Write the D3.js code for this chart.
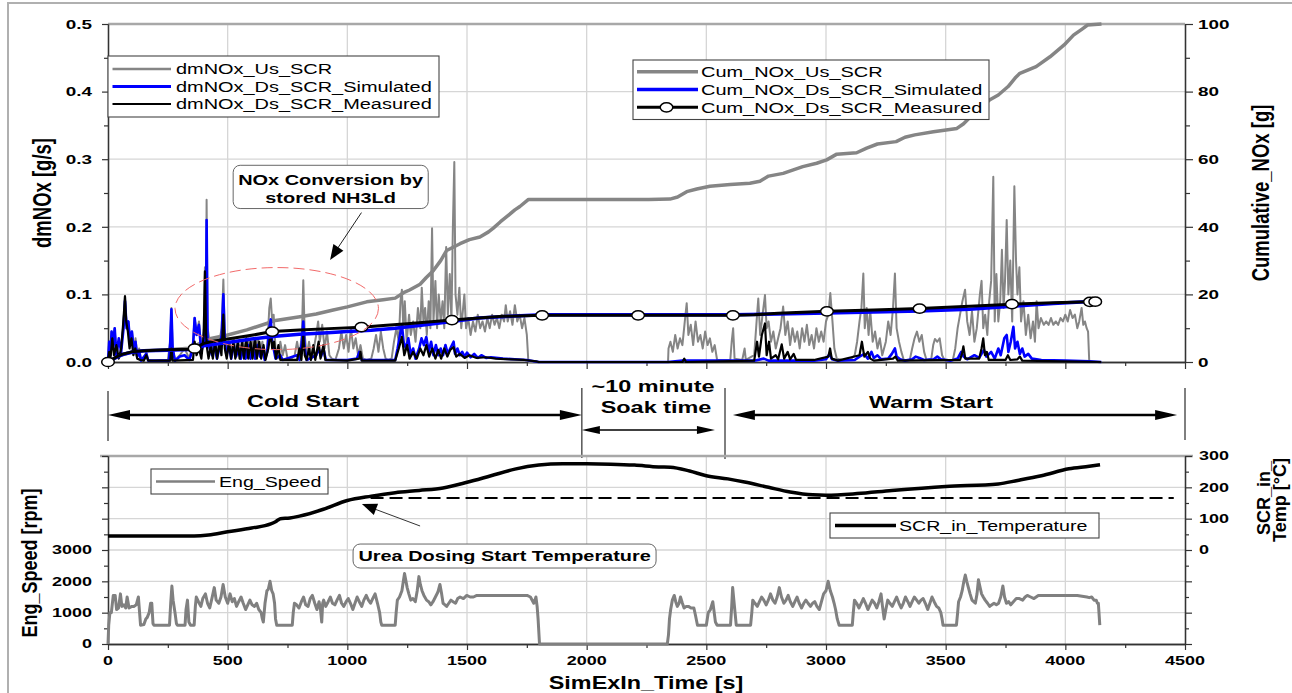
<!DOCTYPE html>
<html><head><meta charset="utf-8">
<script src="https://cdn.jsdelivr.net/npm/d3@7"></script>
<style>
body{margin:0;background:#fff}
svg{display:block}
text{font-family:"Liberation Sans",Arial,sans-serif}
</style>
</head><body>
<svg id="c" width="1292" height="693"></svg>
<script>
// ---------------- DATA (time [s], value) flat pairs ----------------
const xTicks = [0,500,1000,1500,2000,2500,3000,3500,4000,4500];
const nOxTicks = [0,0.1,0.2,0.3,0.4,0.5];
const cumTicks = [0,20,40,60,80,100];
const engTicks = [0,1000,2000,3000];
const tempTicks = [0,100,200,300];

const dmNOxUs = [0,0,5,0.03,10,0.01,15,0.045,20,0.02,28,0.05,35,0.01,45,0.03,55,0.02,65,0.06,71,0.098,78,0.05,85,0.06,92,0.035,100,0.045,108,0.02,115,0.035,122,0.01,130,0.02,138,0.005,150,0.002,160,0.015,168,0.003,180,0.002,200,0.002,220,0.003,250,0.003,260,0.03,265,0.08,270,0.02,280,0.003,300,0.01,320,0.02,340,0.005,355,0.03,362,0.065,370,0.04,380,0.06,390,0.02,400,0.05,405,0.14,409,0.05,412,0.24,416,0.05,425,0.03,435,0.02,445,0.035,455,0.01,465,0.03,475,0.05,482,0.122,488,0.04,495,0.015,505,0.03,515,0.01,525,0.035,535,0.015,545,0.03,555,0.01,565,0.03,575,0.01,585,0.035,595,0.012,605,0.03,615,0.01,625,0.035,635,0.015,645,0.03,655,0.005,665,0.02,674,0.08,680,0.094,686,0.06,692,0.07,700,0.02,710,0.005,720,0.03,730,0.01,740,0.025,750,0.005,760,0.003,780,0.01,790,0.03,800,0.01,810,0.04,816,0.121,822,0.04,830,0.01,840,0.03,850,0.005,860,0.02,870,0.04,878,0.06,885,0.03,895,0.055,905,0.02,915,0.045,925,0.01,935,0.005,950,0.003,965,0.02,975,0.045,985,0.02,995,0.04,1005,0.015,1015,0.05,1025,0.02,1035,0.035,1045,0.01,1055,0.025,1065,0.005,1080,0.003,1100,0.005,1110,0.02,1120,0.04,1130,0.015,1140,0.045,1150,0.02,1160,0.005,1170,0.003,1185,0.005,1195,0.03,1205,0.05,1215,0.03,1222,0.09,1228,0.107,1234,0.05,1240,0.09,1248,0.03,1258,0.07,1265,0.04,1275,0.06,1285,0.03,1295,0.08,1305,0.05,1311,0.11,1318,0.06,1325,0.08,1332,0.04,1340,0.09,1347,0.05,1354,0.198,1360,0.06,1368,0.12,1375,0.05,1382,0.1,1390,0.06,1398,0.09,1405,0.05,1413,0.17,1420,0.07,1428,0.13,1435,0.06,1441,0.2,1447,0.296,1452,0.1,1460,0.07,1468,0.11,1476,0.05,1489,0.1,1496,0.05,1505,0.065,1515,0.04,1525,0.06,1535,0.045,1545,0.07,1555,0.05,1565,0.06,1575,0.045,1585,0.065,1595,0.05,1605,0.07,1615,0.055,1625,0.065,1635,0.05,1645,0.07,1655,0.06,1662,0.084,1670,0.06,1680,0.075,1690,0.055,1700,0.084,1710,0.06,1720,0.07,1730,0.05,1740,0.065,1750,0.04,1756,0.003,1760,0,2340,0,2342,0.02,2350,0.03,2360,0.015,2370,0.04,2380,0.02,2390,0.035,2400,0.025,2410,0.06,2418,0.087,2425,0.04,2435,0.055,2445,0.025,2455,0.06,2465,0.03,2475,0.04,2485,0.02,2495,0.045,2505,0.025,2515,0.035,2525,0.015,2535,0.025,2545,0.003,2600,0.003,2606,0.03,2612,0.05,2618,0.005,2650,0.003,2660,0.02,2665,0.003,2700,0.01,2710,0.06,2717,0.094,2725,0.04,2735,0.07,2745,0.099,2752,0.05,2760,0.06,2770,0.03,2780,0.045,2790,0.02,2800,0.035,2810,0.05,2821,0.082,2830,0.04,2840,0.06,2850,0.025,2860,0.05,2870,0.03,2880,0.045,2890,0.02,2900,0.05,2910,0.03,2920,0.055,2930,0.025,2940,0.04,2950,0.02,2960,0.05,2970,0.03,2980,0.045,2990,0.03,3000,0.06,3010,0.07,3018,0.102,3027,0.06,3035,0.02,3045,0.005,3070,0.003,3100,0.003,3120,0.01,3130,0.03,3140,0.06,3148,0.08,3156,0.131,3162,0.05,3170,0.08,3178,0.04,3185,0.075,3195,0.03,3205,0.045,3215,0.02,3225,0.035,3235,0.01,3250,0.03,3260,0.06,3270,0.04,3280,0.08,3288,0.131,3295,0.05,3305,0.03,3315,0.015,3325,0.003,3350,0.003,3360,0.02,3370,0.035,3380,0.045,3390,0.03,3400,0.04,3410,0.015,3420,0.003,3440,0.005,3448,0.025,3455,0.034,3465,0.03,3475,0.035,3485,0.01,3495,0.003,3530,0.003,3540,0.02,3550,0.05,3560,0.07,3570,0.09,3581,0.107,3590,0.06,3600,0.04,3610,0.075,3620,0.03,3630,0.05,3643,0.1,3650,0.12,3657,0.05,3665,0.07,3674,0.04,3682,0.09,3690,0.12,3699,0.274,3705,0.06,3712,0.13,3720,0.06,3728,0.09,3735,0.166,3742,0.08,3748,0.12,3755,0.21,3762,0.1,3770,0.15,3778,0.06,3787,0.26,3794,0.15,3800,0.1,3808,0.14,3815,0.06,3825,0.09,3835,0.04,3845,0.07,3855,0.035,3865,0.06,3873,0.03,3880,0.09,3888,0.05,3898,0.065,3910,0.055,3920,0.06,3930,0.055,3940,0.065,3950,0.055,3960,0.06,3970,0.055,3980,0.065,3990,0.06,4000,0.07,4010,0.06,4020,0.077,4030,0.065,4040,0.07,4050,0.05,4058,0.06,4068,0.08,4075,0.055,4082,0.06,4089,0.05,4095,0.045,4100,0];

const dmNOxDsSim = [0,0,5,0.03,10,0.01,15,0.045,20,0.02,28,0.05,35,0.01,45,0.035,55,0.015,65,0.05,71,0.09,78,0.05,85,0.06,92,0.03,100,0.045,108,0.015,115,0.03,122,0.008,130,0.015,138,0.002,160,0.012,168,0.002,255,0.002,260,0.03,265,0.078,270,0.02,280,0.002,300,0.008,320,0.01,340,0.003,355,0.02,362,0.065,370,0.04,380,0.055,390,0.015,400,0.03,405,0.06,409,0.03,412,0.21,416,0.03,425,0.02,435,0.01,445,0.025,455,0.005,465,0.02,475,0.04,482,0.1,488,0.03,495,0.01,505,0.025,515,0.005,525,0.025,535,0.008,545,0.02,555,0.005,565,0.02,575,0.005,585,0.025,595,0.005,605,0.02,615,0.005,625,0.025,635,0.008,645,0.02,655,0.003,665,0.015,674,0.05,680,0.063,686,0.03,692,0.02,700,0.005,720,0.01,730,0.003,790,0.01,800,0.003,810,0.03,816,0.06,822,0.02,830,0.003,870,0.01,880,0.02,890,0.008,900,0.02,910,0.003,1000,0.003,1040,0.005,1050,0.015,1060,0.003,1200,0.003,1210,0.02,1220,0.04,1228,0.055,1235,0.03,1245,0.02,1255,0.035,1265,0.01,1275,0.02,1285,0.005,1300,0.02,1310,0.035,1320,0.025,1330,0.037,1340,0.015,1350,0.03,1360,0.01,1370,0.025,1380,0.01,1390,0.02,1400,0.01,1410,0.025,1420,0.012,1430,0.02,1444,0.03,1450,0.012,1460,0.02,1470,0.01,1480,0.015,1490,0.008,1500,0.014,1515,0.007,1530,0.012,1545,0.006,1560,0.01,1580,0.006,1600,0.007,1650,0.005,1700,0.004,1750,0.003,1780,0.001,1800,0,2340,0,2400,0.002,2700,0.002,2740,0.005,2760,0.002,2950,0.002,3000,0.004,3015,0.012,3025,0.004,3050,0.002,3120,0.003,3140,0.008,3160,0.012,3175,0.005,3190,0.015,3200,0.006,3215,0.01,3230,0.004,3260,0.005,3275,0.012,3288,0.02,3295,0.008,3310,0.004,3330,0.002,3360,0.004,3375,0.008,3390,0.006,3410,0.003,3450,0.004,3465,0.008,3480,0.004,3520,0.002,3550,0.005,3565,0.015,3575,0.008,3590,0.004,3620,0.01,3640,0.006,3660,0.018,3670,0.008,3690,0.015,3705,0.005,3720,0.02,3730,0.01,3745,0.035,3755,0.04,3762,0.015,3772,0.03,3783,0.052,3790,0.02,3800,0.03,3810,0.012,3820,0.02,3830,0.008,3845,0.012,3860,0.005,3900,0.003,4000,0.002,4100,0.001,4150,0];

const dmNOxDsMeas = [0,0,5,0.015,10,0.005,18,0.035,25,0.01,35,0.025,45,0.005,55,0.02,62,0.05,68,0.08,71,0.097,76,0.06,83,0.045,90,0.02,98,0.035,106,0.01,114,0.02,122,0.005,135,0.003,150,0.002,160,0.01,168,0.002,260,0.002,265,0.02,270,0.002,355,0.003,362,0.03,370,0.01,380,0.02,390,0.005,400,0.04,405,0.134,410,0.04,414,0.02,420,0.005,430,0.025,438,0.005,448,0.03,456,0.005,466,0.03,474,0.01,482,0.07,488,0.02,496,0.005,506,0.03,514,0.005,524,0.03,532,0.005,542,0.03,550,0.005,560,0.03,568,0.005,578,0.035,586,0.005,596,0.03,604,0.005,614,0.035,622,0.005,632,0.03,640,0.005,650,0.025,658,0.003,670,0.02,680,0.045,686,0.02,694,0.03,702,0.005,712,0.025,720,0.003,790,0.003,800,0.02,808,0.003,816,0.04,822,0.01,830,0.003,840,0.02,848,0.003,858,0.025,866,0.003,880,0.03,888,0.005,900,0.025,908,0.003,1000,0.002,1050,0.005,1055,0.015,1060,0.002,1200,0.002,1215,0.02,1228,0.037,1238,0.01,1250,0.025,1260,0.005,1275,0.015,1290,0.005,1305,0.02,1318,0.01,1330,0.025,1342,0.008,1355,0.02,1368,0.005,1380,0.018,1392,0.005,1405,0.02,1418,0.008,1430,0.018,1444,0.022,1455,0.008,1470,0.012,1490,0.006,1510,0.01,1540,0.006,1580,0.007,1620,0.005,1680,0.004,1740,0.003,1790,0.001,1800,0,2400,0,2408,0.005,2415,0,2700,0.002,2712,0.03,2720,0.008,2732,0.04,2745,0.057,2752,0.01,2762,0.03,2770,0.005,2790,0.01,2800,0.004,2815,0.026,2825,0.005,2840,0.015,2850,0.004,2865,0.012,2875,0.003,2950,0.003,3010,0.008,3017,0.02,3024,0.005,3050,0.002,3140,0.01,3150,0.03,3160,0.008,3175,0.015,3185,0.005,3200,0.002,3280,0.005,3290,0.008,3300,0.002,3560,0.003,3568,0.012,3574,0.023,3582,0.005,3640,0.005,3650,0.02,3657,0.035,3664,0.01,3672,0.015,3680,0.003,3750,0.003,3760,0.01,3770,0.003,3800,0.004,3810,0.008,3820,0.002,4150,0];

const cumNOxUs = [0,0,50,1.9,100,3.0,150,3.3,250,3.6,340,4.1,380,5.4,420,6.8,500,8.0,580,9.5,663,11.4,700,12.3,802,13.4,870,14.2,941,15.4,1000,16.3,1081,17.8,1150,18.4,1200,18.9,1235,20.5,1260,21.3,1304,23.0,1330,25.0,1359,27.0,1390,30.0,1415,33.0,1471,35.0,1510,36.2,1554,37.0,1590,38.5,1610,39.6,1640,41.5,1666,43.0,1700,45.0,1721,46.0,1757,48.1,2260,48.1,2348,48.2,2380,48.8,2418,50.4,2460,51.2,2515,52.0,2600,52.5,2682,52.9,2724,53.5,2760,55.0,2821,55.8,2903,57.8,2961,58.8,3003,59.8,3045,61.5,3128,61.9,3170,63.3,3215,64.5,3293,65.2,3330,66.5,3371,67.2,3449,68.1,3547,69.1,3575,70.5,3605,72.6,3640,75.0,3683,77.5,3720,79.0,3761,81.5,3790,84.0,3810,85.4,3878,87.4,3936,90.3,3995,93.8,4034,96.7,4070,98.5,4093,99.7,4151,100];

const cumNOxDsSim = [0,0,30,1.2,60,2.2,100,2.9,150,3.3,250,3.5,340,3.7,400,4.8,500,5.8,600,6.8,700,7.6,800,8.2,900,8.6,1000,9.0,1100,9.4,1200,10.0,1300,10.8,1437,12.0,1550,13.0,1700,13.6,1814,14.0,2215,14.0,2611,14.0,2800,14.2,3004,14.5,3200,14.8,3391,15.1,3600,15.6,3777,16.5,3950,17.3,4103,17.9,4150,18.0];

const cumNOxDsMeas = [0,0,30,1.3,60,2.3,100,3.0,150,3.3,250,3.6,340,3.8,362,4.0,400,5.5,450,6.3,520,7.0,600,7.9,686,9.0,800,9.5,900,9.8,1059,10.3,1150,10.8,1250,11.3,1350,11.9,1437,12.4,1550,13.0,1650,13.5,1814,13.8,2215,13.8,2611,13.8,2700,14.0,2800,14.4,3004,15.0,3200,15.4,3391,15.8,3600,16.5,3777,17.1,3950,17.5,4103,17.8,4125,17.85,4150,17.9];
const cumMeasMarkers = [0,362,686,1059,1437,1814,2215,2611,3004,3391,3777,4103,4125];

const engSpeed = [0,0,3,600,8,1000,14,1000,22,1550,30,1550,36,1100,44,1150,52,1600,58,1200,66,1250,74,1150,80,1500,88,1150,100,1200,108,1200,118,1250,127,1500,132,1000,136,600,150,620,158,800,164,850,172,1000,178,1300,183,1300,188,650,192,600,257,600,262,1300,267,1850,272,1400,280,1000,286,650,290,600,322,600,326,1100,332,1400,338,700,345,600,360,600,365,1200,369,1500,378,1350,388,1200,396,1450,407,1600,416,1300,425,1150,434,1450,444,1800,452,1400,463,1300,472,1500,481,1900,490,1500,500,1300,510,1600,519,1350,528,1450,537,1200,546,1350,556,1500,565,1300,575,1100,584,1250,593,1400,602,1250,612,1200,621,1300,630,1100,640,1000,645,800,649,700,656,1300,664,1700,670,1750,677,2000,684,1700,690,1600,696,1300,700,800,705,600,770,600,774,1000,779,1300,788,1250,798,1150,808,1350,817,1500,826,1250,836,1200,845,1450,854,1550,864,1300,873,1100,882,1350,888,1100,893,700,897,1300,901,1400,910,1200,920,1350,929,1500,938,1300,948,1250,957,1400,967,1550,976,1300,985,1200,995,1350,1004,1450,1013,1300,1023,1100,1032,1300,1041,1500,1050,1350,1060,1200,1069,1400,1079,1550,1088,1400,1097,1300,1106,1450,1116,1600,1126,1300,1135,1000,1140,700,1144,600,1200,600,1204,1000,1209,1400,1218,1500,1228,1700,1234,2000,1239,2250,1245,2000,1250,1800,1257,1600,1265,1400,1274,1450,1284,1350,1292,1700,1299,2150,1305,1900,1312,1700,1320,1550,1331,1400,1340,1350,1349,1250,1358,1350,1368,1500,1378,1650,1387,1900,1394,1600,1400,1300,1408,1250,1415,1200,1424,1300,1433,1400,1442,1350,1452,1300,1461,1450,1471,1500,1485,1450,1499,1550,1513,1500,1527,1500,1541,1550,1555,1550,1600,1550,1650,1550,1700,1550,1751,1550,1765,1500,1779,1300,1784,1400,1788,1500,1793,1200,1797,800,1803,0,2337,0,2342,300,2346,800,2351,1100,2358,1400,2366,1550,2372,1350,2379,1200,2386,1300,2392,1500,2400,1300,2407,1150,2416,1200,2425,1200,2436,1150,2448,1150,2455,900,2463,600,2500,600,2504,800,2508,1000,2517,1100,2527,1350,2533,1000,2538,700,2545,600,2601,600,2606,1200,2610,1800,2615,1400,2620,1000,2625,600,2685,600,2690,1000,2694,1400,2703,1300,2713,1200,2722,1350,2731,1500,2740,1400,2750,1250,2759,1400,2768,1600,2778,1400,2787,1300,2796,1500,2805,1800,2814,1500,2824,1300,2833,1400,2842,1550,2851,1350,2861,1200,2870,1350,2879,1500,2888,1300,2898,1150,2907,1300,2916,1400,2925,1300,2935,1200,2944,1300,2953,1350,2962,1200,2972,1100,2981,1350,2990,1600,3000,1700,3009,2000,3018,1700,3027,1500,3034,1300,3040,1100,3047,800,3055,600,3110,600,3114,1000,3119,1400,3128,1300,3138,1150,3147,1300,3156,1450,3165,1300,3175,1100,3184,1250,3193,1400,3203,1300,3212,1150,3221,1350,3230,1600,3236,1200,3243,800,3250,1100,3258,1400,3267,1300,3277,1200,3286,1350,3295,1500,3305,1300,3314,1150,3323,1300,3332,1500,3342,1350,3351,1200,3360,1350,3369,1500,3379,1400,3388,1300,3397,1400,3406,1450,3415,1300,3425,1100,3434,1300,3443,1500,3452,1350,3462,1200,3471,1150,3480,1000,3485,800,3489,600,3545,600,3550,1000,3554,1350,3562,1500,3569,1700,3576,2000,3582,2200,3588,2000,3595,1800,3602,1600,3610,1400,3617,1350,3624,1300,3631,1600,3637,2050,3644,1800,3650,1600,3657,1500,3665,1400,3675,1300,3684,1200,3693,1250,3702,1300,3712,1250,3721,1300,3730,1500,3739,1850,3746,1500,3754,1300,3763,1350,3772,1250,3783,1350,3795,1450,3808,1450,3822,1400,3832,1500,3841,1550,3855,1500,3869,1450,3878,1500,3887,1550,3950,1550,4000,1550,4050,1550,4090,1500,4100,1480,4110,1500,4120,1400,4129,1400,4134,1300,4138,1300,4144,600];

const scrInTemp = [0,45,360,45,420,48,500,58,600,70,680,83,700,90,720,100,760,102,800,108,900,130,1000,158,1100,172,1200,183,1300,190,1400,198,1500,216,1600,237,1700,258,1800,271,1900,275,2000,275,2100,274,2200,271,2300,265,2350,264,2430,252,2500,237,2590,227,2660,217,2760,200,2850,185,2945,176,3000,175,3130,180,3275,190,3500,203,3720,211,3800,222,3900,237,4015,259,4100,267,4145,272];
const ureaDosingTemp = 166;

// ---------------- SETUP ----------------
const pairs = a => d3.range(0, a.length, 2).map(i => [a[i], a[i + 1]]);
const svg = d3.select("#c");
const FONT_STRETCH = 1.4;

const x = d3.scaleLinear().domain([0, 4500]).range([108, 1185]);
const yN = d3.scaleLinear().domain([0, 0.5]).range([362, 24]);
const yC = d3.scaleLinear().domain([0, 100]).range([362, 24]);
const yE = d3.scaleLinear().domain([0, 6000]).range([644, 456]);
const yT = d3.scaleLinear().domain([-300, 300]).range([644, 456]);

function T(g, px, py, s, o) {
  o = o || {};
  let tr = `translate(${px},${py})`;
  if (o.rot) tr += ` rotate(${o.rot})`;
  tr += ` scale(${o.sx || 1},${o.sy || 1})`;
  const t = g.append("text").attr("transform", tr)
    .attr("font-size", o.size || 14)
    .attr("font-weight", o.bold ? "bold" : "normal")
    .attr("text-anchor", o.anchor || "start")
    .attr("fill", o.fill || "#000")
    .text(s);
  if (o.dy) t.attr("dy", o.dy);
  return t;
}
function head(g, tx, ty, fx, fy, len, hw, col) {
  const dx = tx - fx, dy = ty - fy, L = Math.hypot(dx, dy);
  const ux = dx / L, uy = dy / L;
  const bx = tx - ux * len, by = ty - uy * len;
  g.append("polygon").attr("points",
    `${tx},${ty} ${bx - uy * hw},${by + ux * hw} ${bx + uy * hw},${by - ux * hw}`)
    .attr("fill", col || "#000");
}
function styleAxis(g) {
  g.select(".domain").attr("stroke", "#333").attr("stroke-width", 1.3);
  g.selectAll(".tick line").attr("stroke", "#333").attr("stroke-width", 1.2);
}

// outer frame
svg.append("line").attr("x1", 8).attr("y1", 3).attr("x2", 8).attr("y2", 693).attr("stroke", "#b0b0b0").attr("stroke-width", 2);
svg.append("line").attr("x1", 7).attr("y1", 3).attr("x2", 1292).attr("y2", 3).attr("stroke", "#b0b0b0").attr("stroke-width", 2);

// ================= TOP PANEL =================
const topG = svg.append("g");
const grid = topG.append("g").attr("stroke", "#d6d6d6").attr("stroke-width", 1.3);
nOxTicks.slice(1, -1).forEach(v => grid.append("line").attr("x1", x(0)).attr("x2", x(4500)).attr("y1", yN(v)).attr("y2", yN(v)));
xTicks.slice(1, -1).forEach(t => grid.append("line").attr("x1", x(t)).attr("x2", x(t)).attr("y1", yN(0)).attr("y2", yN(0.5)));
topG.append("line").attr("x1", x(0)).attr("x2", x(4500)).attr("y1", yN(0.5)).attr("y2", yN(0.5)).attr("stroke", "#a8a8a8").attr("stroke-width", 2.5);

let g;
g = topG.append("g").attr("transform", `translate(${x(0)},0)`).call(d3.axisLeft(yN).tickValues(nOxTicks).tickSize(6).tickSizeOuter(0).tickFormat("")); styleAxis(g);
g = topG.append("g").attr("transform", `translate(${x(0)},0)`).call(d3.axisLeft(yN).tickValues(d3.range(0.05, 0.5, 0.1)).tickSize(4).tickSizeOuter(0).tickFormat("")); styleAxis(g);
g = topG.append("g").attr("transform", `translate(${x(4500)},0)`).call(d3.axisRight(yC).tickValues(cumTicks).tickSize(8).tickSizeOuter(0).tickFormat("")); styleAxis(g);
g = topG.append("g").attr("transform", `translate(${x(4500)},0)`).call(d3.axisRight(yC).tickValues(d3.range(10, 100, 20)).tickSize(5).tickSizeOuter(0).tickFormat("")); styleAxis(g);
g = topG.append("g").attr("transform", `translate(0,${yN(0)})`).call(d3.axisBottom(x).tickValues(xTicks).tickSize(7).tickSizeOuter(0).tickFormat("")); styleAxis(g);
g = topG.append("g").attr("transform", `translate(0,${yN(0)})`).call(d3.axisBottom(x).tickValues(d3.range(250, 4500, 500)).tickSize(4).tickSizeOuter(0).tickFormat("")); styleAxis(g);

nOxTicks.forEach(v => T(topG, 92, yN(v), d3.format(".1f")(v), { size: 13.5, bold: true, anchor: "end", sx: FONT_STRETCH, dy: "0.36em" }));
cumTicks.forEach(v => T(topG, 1198, yC(v), String(v), { size: 13.5, bold: true, anchor: "start", sx: FONT_STRETCH, dy: "0.36em" }));
T(topG, 51, 193, "dmNOx [g/s]", { size: 18.5, bold: true, anchor: "middle", rot: -90, sy: 1.35 });
T(topG, 1269, 193, "Cumulative_NOx [g]", { size: 18.5, bold: true, anchor: "middle", rot: -90, sy: 1.3 });

const lineN = d3.line().x(d => x(d[0])).y(d => yN(d[1]));
const lineC = d3.line().x(d => x(d[0])).y(d => yC(d[1]));
topG.append("path").attr("d", lineN(pairs(dmNOxUs))).attr("fill", "none").attr("stroke", "#858585").attr("stroke-width", 2).attr("stroke-linejoin", "round");
topG.append("path").attr("d", lineC(pairs(cumNOxUs))).attr("fill", "none").attr("stroke", "#858585").attr("stroke-width", 3.5).attr("stroke-linejoin", "round");
topG.append("path").attr("d", lineN(pairs(dmNOxDsSim))).attr("fill", "none").attr("stroke", "#0000ff").attr("stroke-width", 2.6).attr("stroke-linejoin", "round");
topG.append("path").attr("d", lineN(pairs(dmNOxDsMeas))).attr("fill", "none").attr("stroke", "#000").attr("stroke-width", 2.2).attr("stroke-linejoin", "round");
topG.append("path").attr("d", lineC(pairs(cumNOxDsSim))).attr("fill", "none").attr("stroke", "#0000ff").attr("stroke-width", 3.5).attr("stroke-linejoin", "round");
const measPts = pairs(cumNOxDsMeas);
topG.append("path").attr("d", lineC(measPts)).attr("fill", "none").attr("stroke", "#000").attr("stroke-width", 3).attr("stroke-linejoin", "round");
topG.selectAll("ellipse.mk").data(measPts.filter(d => cumMeasMarkers.includes(d[0]))).join("ellipse")
  .attr("class", "mk")
  .attr("cx", d => x(d[0])).attr("cy", d => yC(d[1])).attr("rx", 6.3).attr("ry", 4.6)
  .attr("fill", "#fff").attr("stroke", "#000").attr("stroke-width", 1.5);

topG.append("ellipse").attr("cx", x(705)).attr("cy", yN(0.079))
  .attr("rx", x(705 + 425) - x(705)).attr("ry", yN(0) - yN(0.0607))
  .attr("fill", "none").attr("stroke", "#f26a6a").attr("stroke-width", 1).attr("stroke-dasharray", "11,5");

const nb = { t0: 523, t1: 1338, v0: 0.291, v1: 0.227 };
topG.append("rect").attr("x", x(nb.t0)).attr("y", yN(nb.v0)).attr("width", x(nb.t1) - x(nb.t0)).attr("height", yN(nb.v1) - yN(nb.v0))
  .attr("rx", 7).attr("fill", "#fff").attr("stroke", "#666").attr("stroke-width", 1);
T(topG, x(930), yN(nb.v0) + 20, "NOx Conversion by", { size: 15, bold: true, anchor: "middle", sx: 1.33 });
T(topG, x(930), yN(nb.v0) + 38, "stored NH3Ld", { size: 15, bold: true, anchor: "middle", sx: 1.33 });
topG.append("line").attr("x1", x(1059)).attr("y1", yN(0.221)).attr("x2", x(940)).attr("y2", yN(0.158)).attr("stroke", "#222").attr("stroke-width", 1);
head(topG, x(928), yN(0.151), x(1059), yN(0.221), 15, 6);

function legendBox(g, bx, by, bw, bh) {
  g.append("rect").attr("x", bx).attr("y", by).attr("width", bw).attr("height", bh).attr("fill", "#fff").attr("stroke", "#444").attr("stroke-width", 1.1);
}
legendBox(topG, 108, 56, 331, 61);
[["dmNOx_Us_SCR", "#858585", 2.6], ["dmNOx_Ds_SCR_Simulated", "#0000ff", 3], ["dmNOx_Ds_SCR_Measured", "#000", 2]].forEach((d, i) => {
  const yy = 69 + i * 17.5;
  topG.append("line").attr("x1", 112.5).attr("x2", 171).attr("y1", yy).attr("y2", yy).attr("stroke", d[1]).attr("stroke-width", d[2]);
  T(topG, 176, yy, d[0], { size: 15, sx: 1.33, dy: "0.36em" });
});
legendBox(topG, 633, 60, 356, 59.5);
[["Cum_NOx_Us_SCR", "#858585", 3.5], ["Cum_NOx_Ds_SCR_Simulated", "#0000ff", 3.5], ["Cum_NOx_Ds_SCR_Measured", "#000", 3]].forEach((d, i) => {
  const yy = 71.7 + i * 17.8;
  topG.append("line").attr("x1", 637).attr("x2", 698).attr("y1", yy).attr("y2", yy).attr("stroke", d[1]).attr("stroke-width", d[2]);
  if (i === 2) topG.append("ellipse").attr("cx", 666.5).attr("cy", yy).attr("rx", 6.3).attr("ry", 4.6).attr("fill", "#fff").attr("stroke", "#000").attr("stroke-width", 1.5);
  T(topG, 701, yy, d[0], { size: 15, sx: 1.33, dy: "0.36em" });
});

// ================= MIDDLE ANNOTATIONS =================
const midG = svg.append("g");
const vl = (t, y1, y2) => midG.append("line").attr("x1", x(t)).attr("x2", x(t)).attr("y1", y1).attr("y2", y2).attr("stroke", "#000").attr("stroke-width", 1);
vl(0, 391, 441); vl(1980, 388, 458); vl(2578, 388, 459); vl(4500, 388, 440);
function dblArrow(t0, t1, yy, w, len, hw) {
  const a = x(t0), b = x(t1);
  midG.append("line").attr("x1", a + len * 0.6).attr("x2", b - len * 0.6).attr("y1", yy).attr("y2", yy).attr("stroke", "#000").attr("stroke-width", w);
  head(midG, a, yy, b, yy, len, hw);
  head(midG, b, yy, a, yy, len, hw);
}
dblArrow(0, 1980, 415, 2.6, 22, 5);
dblArrow(2611, 4467, 415, 2.6, 22, 5);
dblArrow(1980, 2536, 430, 1.5, 18, 4);
T(midG, 303, 407, "Cold Start", { size: 16.5, bold: true, anchor: "middle", sx: 1.42 });
T(midG, 653, 392, "~10 minute", { size: 16.5, bold: true, anchor: "middle", sx: 1.42 });
T(midG, 656, 413, "Soak time", { size: 16.5, bold: true, anchor: "middle", sx: 1.42 });
T(midG, 931, 408, "Warm Start", { size: 16.5, bold: true, anchor: "middle", sx: 1.42 });

// ================= BOTTOM PANEL =================
const botG = svg.append("g");
const grid2 = botG.append("g").attr("stroke", "#d6d6d6").attr("stroke-width", 1.3);
d3.range(1000, 6000, 1000).forEach(v => grid2.append("line").attr("x1", x(0)).attr("x2", x(4500)).attr("y1", yE(v)).attr("y2", yE(v)));
xTicks.slice(1, -1).forEach(t => grid2.append("line").attr("x1", x(t)).attr("x2", x(t)).attr("y1", yE(0)).attr("y2", yE(6000)));
botG.append("line").attr("x1", x(0) - 8).attr("x2", x(4500) + 8).attr("y1", yE(6000)).attr("y2", yE(6000)).attr("stroke", "#a8a8a8").attr("stroke-width", 2.5);

g = botG.append("g").attr("transform", `translate(${x(0)},0)`).call(d3.axisLeft(yE).tickValues(d3.range(0, 6001, 1000)).tickSize(6).tickSizeOuter(0).tickFormat("")); styleAxis(g);
g = botG.append("g").attr("transform", `translate(${x(0)},0)`).call(d3.axisLeft(yE).tickValues(d3.range(500, 6000, 1000)).tickSize(4).tickSizeOuter(0).tickFormat("")); styleAxis(g);
g = botG.append("g").attr("transform", `translate(${x(4500)},0)`).call(d3.axisRight(yT).tickValues(d3.range(-300, 301, 100)).tickSize(7).tickSizeOuter(0).tickFormat("")); styleAxis(g);
g = botG.append("g").attr("transform", `translate(${x(4500)},0)`).call(d3.axisRight(yT).tickValues(d3.range(-250, 300, 100)).tickSize(4).tickSizeOuter(0).tickFormat("")); styleAxis(g);
g = botG.append("g").attr("transform", `translate(0,${yE(0)})`).call(d3.axisBottom(x).tickValues(xTicks).tickSize(6).tickSizeOuter(0).tickFormat("")); styleAxis(g);
g = botG.append("g").attr("transform", `translate(0,${yE(0)})`).call(d3.axisBottom(x).tickValues(d3.range(250, 4500, 500)).tickSize(4).tickSizeOuter(0).tickFormat("")); styleAxis(g);

engTicks.forEach(v => T(botG, 92, yE(v), String(v), { size: 12, bold: true, anchor: "end", sx: 1.5, dy: "0.36em" }));
tempTicks.forEach(v => T(botG, 1199, yT(v), String(v), { size: 12, bold: true, anchor: "start", sx: 1.5, dy: "0.36em" }));
xTicks.forEach(t => T(botG, x(t), 665, String(t), { size: 12, bold: true, anchor: "middle", sx: 1.5 }));
T(botG, 646, 689, "SimExIn_Time [s]", { size: 18, bold: true, anchor: "middle", sx: 1.3 });
T(botG, 37, 563, "Eng_Speed [rpm]", { size: 18, bold: true, anchor: "middle", rot: -90, sy: 1.2 });
T(botG, 1270, 498, "SCR_in_", { size: 18, bold: true, anchor: "middle", rot: -90 });
T(botG, 1286, 500, "Temp [°C]", { size: 18, bold: true, anchor: "middle", rot: -90 });

botG.append("line").attr("x1", x(1097)).attr("x2", x(4453)).attr("y1", yT(ureaDosingTemp)).attr("y2", yT(ureaDosingTemp))
  .attr("stroke", "#000").attr("stroke-width", 2).attr("stroke-dasharray", "13,6");
botG.append("path").attr("d", d3.line().x(d => x(d[0])).y(d => yE(d[1]))(pairs(engSpeed)))
  .attr("fill", "none").attr("stroke", "#808080").attr("stroke-width", 3).attr("stroke-linejoin", "round");
botG.append("path").attr("d", d3.line().x(d => x(d[0])).y(d => yT(d[1])).curve(d3.curveMonotoneX)(pairs(scrInTemp)))
  .attr("fill", "none").attr("stroke", "#000").attr("stroke-width", 3.5);

legendBox(botG, 151, 469, 177, 25);
botG.append("line").attr("x1", 156).attr("x2", 215).attr("y1", 481.5).attr("y2", 481.5).attr("stroke", "#808080").attr("stroke-width", 2.6);
T(botG, 219, 481.5, "Eng_Speed", { size: 14, sx: 1.4, dy: "0.36em" });
legendBox(botG, 830, 513, 269, 25);
botG.append("line").attr("x1", 835).attr("x2", 896).attr("y1", 525.5).attr("y2", 525.5).attr("stroke", "#000").attr("stroke-width", 3.5);
T(botG, 899, 525.5, "SCR_in_Temperature", { size: 14, sx: 1.4, dy: "0.36em" });

const ub = { t0: 1024, t1: 2290, c0: 19, c1: -57.5 };
botG.append("rect").attr("x", x(ub.t0)).attr("y", yT(ub.c0)).attr("width", x(ub.t1) - x(ub.t0)).attr("height", yT(ub.c1) - yT(ub.c0))
  .attr("rx", 7).attr("fill", "#fff").attr("stroke", "#666").attr("stroke-width", 1);
T(botG, x(1657), (yT(ub.c0) + yT(ub.c1)) / 2, "Urea Dosing Start Temperature", { size: 14, bold: true, anchor: "middle", sx: 1.42, dy: "0.36em" });
botG.append("line").attr("x1", x(1304)).attr("y1", yT(76.6)).attr("x2", x(1075)).attr("y2", yT(142)).attr("stroke", "#333").attr("stroke-width", 1);
head(botG, x(1061), yT(146.8), x(1304), yT(76.6), 15, 6);
</script>
</body></html>
